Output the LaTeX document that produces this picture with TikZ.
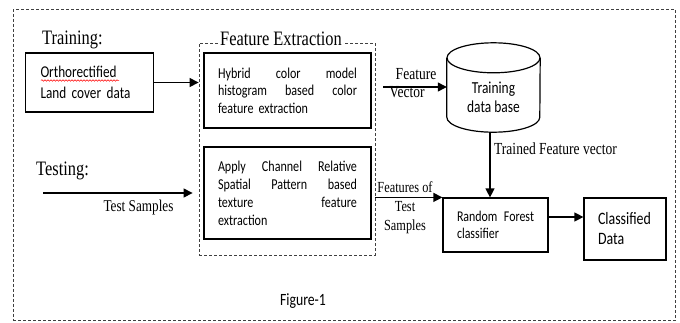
\documentclass[tikz,border=0pt]{standalone}
\usepackage{fontspec}
\setmainfont{Liberation Serif}[FakeStretch=0.8]
\newfontfamily\calib{Carlito}[FakeStretch=0.8]
\usetikzlibrary{arrows.meta,decorations.pathmorphing}
\tikzset{
 box/.style={draw=black, line width=1.2pt, inner ysep=0pt},
 frame/.style={draw=black!75, line width=0.8pt, dash pattern=on 3pt off 2pt, inner sep=0pt},
 conn/.style={line width=1.2pt, -{Triangle[length=9pt,width=9pt]}},
 ser/.style={font=\fontsize{16.9}{19}\selectfont, inner sep=0pt},
 serbig/.style={font=\fontsize{20.5}{24}\selectfont, inner sep=0pt},
}
\newcommand\jl[2]{\leavevmode\hbox to #1{#2}}
\begin{document}
\begin{tikzpicture}[x=1pt,y=-1pt]
\useasboundingbox (0,0) rectangle (680,322);
% frames
\node[frame, minimum width=662pt, minimum height=311.5pt] (outer) at (344,164.75) {};
\node[frame, minimum width=176pt, minimum height=212pt] (fe) at (287,149) {};
\node[serbig, fill=white, inner sep=1pt] (fet) at (281,39) {Feature Extraction};
% labels
\node[serbig, anchor=west] (tr) at (42,40) {Training:};
\node[serbig, anchor=west] (te) at (36,171) {Testing:};
% boxes
\node[box, text width=98pt, inner xsep=15pt, minimum height=59pt, align=left,
      font=\calib\fontsize{16.5}{21}\selectfont] (or) at (89.5,82.5) {Orthorectified\\Land cover data};
\draw[red, line width=0.5pt, decorate, decoration={snake, amplitude=0.8pt, segment length=3pt}] (41,80.5) -- (119,80.5);
\node[box, text width=139pt, inner xsep=14pt, minimum height=75pt, align=left,
      font=\calib\fontsize{15.1}{17.5}\selectfont] (hy) at (287.5,90.5)
      {\jl{139pt}{Hybrid\hfill color\hfill model}\\\jl{139pt}{histogram\hfill based\hfill color}\\feature extraction};
\node[box, text width=139pt, inner xsep=14pt, minimum height=92pt, align=left,
      font=\calib\fontsize{15.1}{18}\selectfont] (ap) at (287.5,193)
      {\jl{139pt}{Apply\hfill Channel\hfill Relative}\\\jl{139pt}{Spatial\hfill Pattern\hfill based}\\\jl{139pt}{texture\hfill feature}\\extraction};
\node[box, text width=77pt, inner xsep=14pt, minimum height=54pt, align=left,
      font=\calib\fontsize{14.9}{17}\selectfont] (rf) at (495.5,225)
      {\jl{77pt}{Random\hfill Forest}\\classifier};
\node[box, text width=54pt, inner xsep=14pt, minimum height=62pt, align=left,
      font=\calib\fontsize{17.4}{20}\selectfont] (cd) at (625,229) {Classified\\Data};
% cylinder
\node[minimum width=93pt, minimum height=89pt, inner sep=0pt] (db) at (493.5,87.5) {};
\draw[line width=1.2pt] ([yshift=-15pt]db.north) ellipse[x radius=46.5pt, y radius=15pt];
\draw[line width=1.2pt] ([yshift=-15pt]db.north west) -- ([yshift=15pt]db.south west)
   arc[start angle=180, end angle=360, x radius=46.5pt, y radius=15pt] -- ([yshift=-15pt]db.north east);
\node[align=center, inner sep=0pt, font=\calib\fontsize{16.8}{19}\selectfont] (dbt) at (493.5,97.5) {Training\\data base};
% connectors
\draw[conn] (or.east) -- (or.east -| fe.west);
\coordinate (fvA) at (383,87);
\draw[conn] (fvA) -- (fvA -| db.west);
\node[ser] (fvl1) at (416,74) {Feature};
\node[ser] (fvl2) at (407,92) {Vector};
\coordinate (tsA) at (43,193);
\draw[conn, shorten >=6pt] (tsA) -- (tsA -| fe.west);
\node[font=\fontsize{16.5}{19}\selectfont, inner sep=0pt] (tsl) at (138.5,208) {Test Samples};
\draw[conn] ([xshift=-3.5pt]db.south) -- ([xshift=-3.5pt]db.south |- rf.north);
\node[ser, anchor=west] (tfv) at (494,149) {Trained Feature vector};
\draw[conn] (fe.east |- rf.north west) -- (rf.north west);
\node[align=center, inner sep=0pt, font=\fontsize{15.4}{19}\selectfont] (fts) at (405,208) {Features of\\Test\\Samples};
\coordinate (rc) at (548,217);
\draw[conn] (rf.east |- rc) -- (cd.west |- rc);
\node[inner sep=0pt, font=\calib\fontsize{17.2}{20}\selectfont] (fig) at (303,301) {Figure-1};
\end{tikzpicture}
\end{document}
